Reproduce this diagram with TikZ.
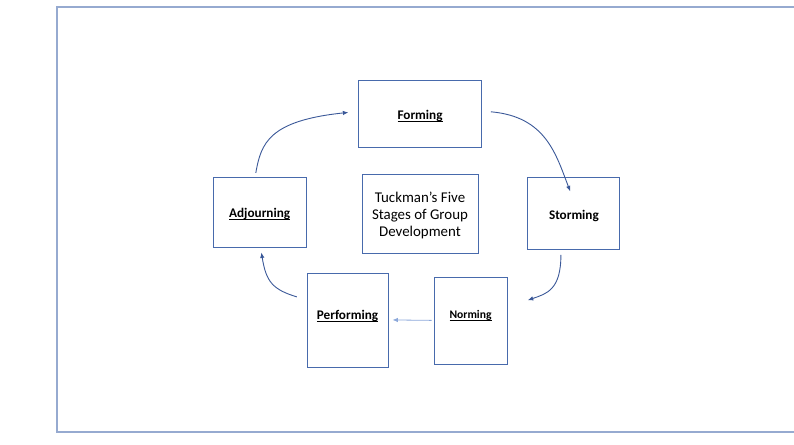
\documentclass[tikz,border=0pt]{standalone}
\usepackage{fontspec}
\setmainfont{Carlito}
\usetikzlibrary{arrows.meta,positioning}
\definecolor{boxblue}{RGB}{72,106,172}
\definecolor{arrowblue}{RGB}{58,88,152}
\definecolor{lightblue}{RGB}{140,168,218}
\definecolor{framegrey}{RGB}{150,170,208}
\newcommand{\stagelabel}[1]{\setbox0\hbox{#1}\rlap{\rule[-2.3pt]{\wd0}{0.9pt}}\box0}
\newcommand{\shiftlabel}[2]{\raisebox{#1}[\height][\depth]{#2}}

\begin{document}
\begin{tikzpicture}[x=1pt, y=1pt,
    stage/.style={draw=boxblue, line width=0.9pt, rectangle, inner sep=0pt, font=\fontsize{13.2}{15}\selectfont\bfseries},
    flow/.style={draw=arrowblue, line width=0.9pt, -{Latex[length=5.5pt,width=4.5pt]}}]
    \useasboundingbox (0,0) rectangle (794,444);
    \draw [framegrey, line width=1.5pt] (800,437) -- (57,437) -- (57,12) -- (800,12);

    \node (title) [stage, font=\fontsize{14.9}{17}\selectfont, minimum width=116pt, minimum height=79pt] at (420,230.5) {\shiftlabel{-2.5pt}{\begin{tabular}{@{}c@{}}Tuckman’s Five\\Stages of Group\\Development\end{tabular}}};

    \node (forming) [stage, minimum width=123pt, minimum height=67pt, above=26pt of title] {\shiftlabel{-2.5pt}{\stagelabel{Forming}}};

    \node (storming) [stage, minimum width=92pt, minimum height=72pt, right=49pt of title] {\shiftlabel{-2pt}{Storming}};

    \node (norming) [stage, font=\fontsize{11.6}{14}\selectfont\bfseries, minimum width=73pt, minimum height=87pt, below=24pt of title, xshift=50.5pt] {\shiftlabel{5.5pt}{\stagelabel{Norming}}};

    \node (performing) [stage, minimum width=81pt, minimum height=94pt, below=20pt of title, xshift=-72.5pt] {\shiftlabel{5pt}{\stagelabel{Performing}}};

    \node (adjourning) [stage, minimum width=93pt, minimum height=70pt, left=55pt of title, yshift=1.5pt] {\shiftlabel{-2.5pt}{\stagelabel{Adjourning}}};

    \draw [flow] ([xshift=-3.8pt,yshift=3.7pt]adjourning.north) .. controls +(80:30) and +(186:80) .. ([xshift=-9.7pt,yshift=1.2pt]forming.west);
    \draw [flow] ([xshift=9pt,yshift=1.8pt]forming.east) .. controls +(-5:55) and +(111:40) .. ([xshift=-3.7pt,yshift=-14.3pt]storming.north);
    \draw [flow] ([xshift=-13pt,yshift=-5pt]storming.south) .. controls +(-90:35) and +(19:20) .. ([xshift=20.3pt,yshift=21.2pt]norming.east);
    \draw [flow, draw=lightblue, line width=0.8pt, shorten <=2pt, shorten >=4pt] ([yshift=1pt]norming.west) -- ([yshift=1pt]performing.east);
    \draw [flow] ([xshift=-9.7pt,yshift=24pt]performing.west) .. controls +(163:25) and +(-81:30) .. ([xshift=1.8pt,yshift=-5pt]adjourning.south);

\end{tikzpicture}
\end{document}
